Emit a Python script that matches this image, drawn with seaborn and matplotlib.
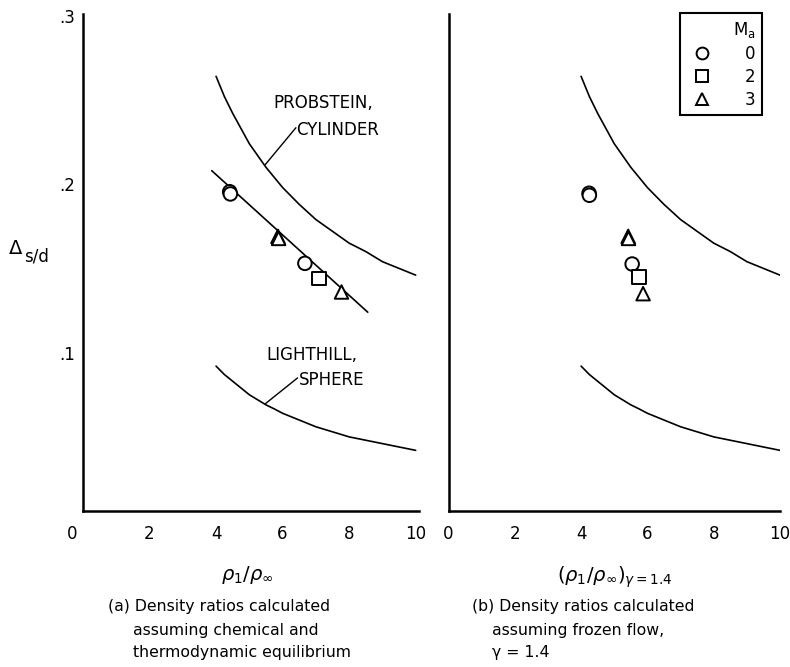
import numpy as np
import pandas as pd
import matplotlib
matplotlib.use("Agg")
import matplotlib.pyplot as plt
import seaborn as sns
from matplotlib.lines import Line2D

# ---------------- data ----------------
curve_x = [4.0, 4.25, 4.5, 4.75, 5.0, 5.25, 5.5, 5.75, 6.0, 6.5, 7.0, 7.5,
           8.0, 8.5, 9.0, 9.5, 10.0]
probstein_y = [0.264, 0.252, 0.242, 0.233, 0.224, 0.217, 0.210, 0.204, 0.198,
               0.188, 0.179, 0.172, 0.165, 0.160, 0.154, 0.150, 0.146]
lighthill_y = [0.092, 0.087, 0.083, 0.079, 0.075, 0.072, 0.069, 0.0666, 0.064,
               0.060, 0.056, 0.053, 0.050, 0.048, 0.046, 0.044, 0.042]

fit_x = [3.87, 8.56]
fit_y = [0.208, 0.124]

eq_x = [4.41, 4.43, 5.86, 5.88, 6.67, 7.10, 7.77]
eq_y = [0.1955, 0.1942, 0.1690, 0.1678, 0.1530, 0.1440, 0.1360]
eq_ma = [0, 0, 3, 3, 0, 2, 3]

fr_x = [4.24, 4.25, 5.42, 5.43, 5.54, 5.75, 5.87]
fr_y = [0.1946, 0.1934, 0.1690, 0.1678, 0.1526, 0.1450, 0.1350]
fr_ma = [0, 0, 3, 3, 0, 2, 3]

ma_levels = [0, 2, 3]
ma_markers = {0: "o", 2: "s", 3: "^"}
x_ticks = [0, 2, 4, 6, 8, 10]
y_ticks = [0.1, 0.2, 0.3]
y_ticklabels = [".1", ".2", ".3"]

# ---------------- figure ----------------
sns.set_theme(style="white", rc={"text.color": "black", "xtick.color": "black",
                                 "ytick.color": "black",
                                 "axes.labelcolor": "black"})
plt.rcParams["font.family"] = ["DejaVu Sans"]
plt.rcParams["mathtext.fontset"] = "dejavusans"

W, H = 790, 667
fig = plt.figure(figsize=(W / 100, H / 100), dpi=100)

def fx(px):
    return px / W

def fy(py):
    return 1 - py / H

ax1 = fig.add_axes([fx(83), fy(511), 336 / W, 497 / H])
ax2 = fig.add_axes([fx(448.5), fy(511), 331.5 / W, 497 / H])

curves = pd.DataFrame({"x": curve_x, "probstein": probstein_y, "lighthill": lighthill_y})
eq = pd.DataFrame({"x": eq_x, "y": eq_y, "Ma": eq_ma})
fr = pd.DataFrame({"x": fr_x, "y": fr_y, "Ma": fr_ma})
fit = pd.DataFrame({"x": fit_x, "y": fit_y})

for ax in (ax1, ax2):
    sns.lineplot(data=curves, x="x", y="probstein", ax=ax, color="black", lw=1.2)
    sns.lineplot(data=curves, x="x", y="lighthill", ax=ax, color="black", lw=1.2)

sns.lineplot(data=fit, x="x", y="y", ax=ax1, color="black", lw=1.2)

for ax, df in ((ax1, eq), (ax2, fr)):
    sns.scatterplot(data=df, x="x", y="y", style="Ma", markers=ma_markers,
                    style_order=ma_levels, ax=ax, color="white",
                    edgecolor="black", linewidth=1.4, s=95, legend=False,
                    zorder=5)

ax1.set_xlim(0, 10.1)
ax2.set_xlim(0, 10.0)
for ax in (ax1, ax2):
    ax.set_ylim(0.006, 0.301)
    ax.set_xticks(x_ticks)
    ax.set_xlabel("")
    ax.set_ylabel("")
    ax.tick_params(axis="both", length=0, pad=10)
    for s in ("top", "right"):
        ax.spines[s].set_visible(False)
    for s in ("left", "bottom"):
        ax.spines[s].set_color("black")
        ax.spines[s].set_linewidth(1.8)
    ax.set_facecolor("white")

ax1.set_xticklabels(["0    "] + [str(t) for t in x_ticks[1:]], fontsize=12)
ax2.set_xticklabels([str(t) for t in x_ticks], fontsize=12)
ax1.set_yticks(y_ticks)
ax1.set_yticklabels(y_ticklabels, fontsize=12)
ax1.tick_params(axis="y", pad=6)
ax2.set_yticks([])

# annotations (left panel)
ann_fs = 12
ax1.annotate("", xy=(5.47, 0.2114), xytext=(6.40, 0.2335),
             arrowprops=dict(arrowstyle="-", color="black", lw=1.0,
                             shrinkA=0, shrinkB=0))
ax1.text(5.71, 0.248, "PROBSTEIN,", fontsize=ann_fs, ha="left", va="center")
ax1.text(6.42, 0.232, "CYLINDER", fontsize=ann_fs, ha="left", va="center")
ax1.annotate("", xy=(5.47, 0.0695), xytext=(6.45, 0.0850),
             arrowprops=dict(arrowstyle="-", color="black", lw=1.0,
                             shrinkA=0, shrinkB=0))
ax1.text(5.50, 0.0986, "LIGHTHILL,", fontsize=ann_fs, ha="left", va="center")
ax1.text(6.50, 0.0837, "SPHERE", fontsize=ann_fs, ha="left", va="center")

# legend
handles = [Line2D([], [], ls="none", marker=ma_markers[m], markersize=8.5,
                  markerfacecolor="white", markeredgecolor="black",
                  markeredgewidth=1.4) for m in ma_levels]
leg = ax2.legend(handles, [str(m) for m in ma_levels], title=r"M$_\mathrm{a}$",
                 loc="upper right", bbox_to_anchor=(fx(762), fy(13)),
                 bbox_transform=fig.transFigure, frameon=True, fancybox=False,
                 framealpha=1, edgecolor="black", fontsize=12,
                 title_fontsize=12, alignment="right", labelspacing=0.3,
                 handletextpad=1.6, borderpad=0.4, handlelength=1.9,
                 borderaxespad=0)
leg.get_frame().set_linewidth(1.5)

# axis labels
fig.text(fx(16), fy(249), "Δ", fontsize=14, ha="center", va="center")
fig.text(fx(24), fy(256), "s/d", fontsize=12, ha="left", va="center")
fig.text(fx(247), fy(575), r"$\rho_1/\rho_\infty$", fontsize=14,
         ha="center", va="center")
fig.text(fx(615), fy(577), r"$(\rho_1/\rho_\infty)_{\gamma=1.4}$", fontsize=14,
         ha="center", va="center")

# captions
cap_fs = 11.3
fig.text(fx(108), fy(607), "(a) Density ratios calculated", fontsize=cap_fs,
         ha="left", va="center")
fig.text(fx(133), fy(630), "assuming chemical and", fontsize=cap_fs,
         ha="left", va="center")
fig.text(fx(133), fy(653), "thermodynamic equilibrium", fontsize=cap_fs,
         ha="left", va="center")
fig.text(fx(472), fy(607), "(b) Density ratios calculated", fontsize=cap_fs,
         ha="left", va="center")
fig.text(fx(492), fy(630), "assuming frozen flow,", fontsize=cap_fs,
         ha="left", va="center")
fig.text(fx(492), fy(653), "γ = 1.4", fontsize=cap_fs, ha="left", va="center")

fig.savefig("out.png", dpi=100, facecolor="white")
